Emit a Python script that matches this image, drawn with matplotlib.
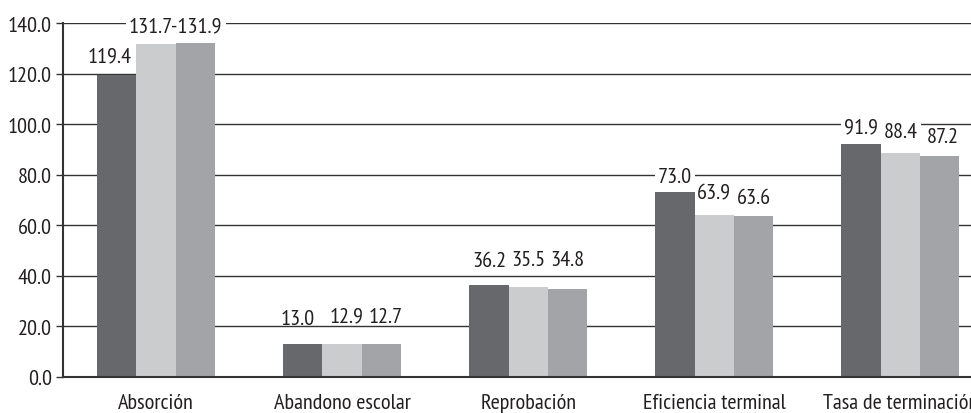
import matplotlib.pyplot as plt
import numpy as np

plt.rcParams['font.family'] = ['PT Sans Narrow', 'Roboto Condensed', 'DejaVu Sans']

# datos
categorias = ['Absorción', 'Abandono escolar', 'Reprobación',
              'Eficiencia terminal', 'Tasa de terminación']
serie_1 = [119.4, 13.0, 36.2, 73.0, 91.9]
serie_2 = [131.7, 12.9, 35.5, 63.9, 88.4]
serie_3 = [131.9, 12.7, 34.8, 63.6, 87.2]
yticks = [0, 20, 40, 60, 80, 100, 120, 140]

colores = ['#67686c', '#cbcccd', '#a3a4a8']
# desplazamiento de cada etiqueta (puntos) y si tapa la rejilla
desplaz = [[10, 9, 9], [14, 16, 16], [14, 16, 17], [7, 12, 9], [9, 12, 10]]
desplaz_x = [[-5, 0, 0], [-4, 3, 3], [0, 0, 0], [0, 0, 0], [0, 0, 2]]
tapa = [[True, True, True], [False] * 3, [False] * 3, [True, False, False], [True, True, False]]

fig = plt.figure(figsize=(9.71, 4.14), dpi=100)
ax = fig.add_axes([0.0649, 0.088, 0.9351, 0.854])

x = np.arange(len(categorias))
w = 0.211
series = [serie_1, serie_2, serie_3]
for i, (vals, c) in enumerate(zip(series, colores)):
    ax.bar(x + (i - 1) * w, vals, width=w, color=c, zorder=2)

caja = dict(boxstyle='square,pad=0.15', fc='white', ec='none')
fs = 16
for j in range(len(categorias)):
    if j == 0:
        # etiqueta combinada para las dos barras casi iguales
        ax.annotate(f'{serie_1[0]:.1f}', (x[0] - w, serie_1[0]),
                    xytext=(desplaz_x[0][0], desplaz[0][0]),
                    textcoords='offset points', ha='center', va='baseline',
                    fontsize=fs, color='#231f20', bbox=caja, zorder=3)
        ax.annotate(f'{serie_2[0]:.1f}-{serie_3[0]:.1f}', (x[0] + w / 2, max(serie_2[0], serie_3[0])),
                    xytext=(0, desplaz[0][1]), textcoords='offset points', ha='center',
                    va='baseline', fontsize=fs, color='#231f20', bbox=caja, zorder=3)
        continue
    for i, vals in enumerate(series):
        ax.annotate(f'{vals[j]:.1f}', (x[j] + (i - 1) * w, vals[j]),
                    xytext=(desplaz_x[j][i], desplaz[j][i]),
                    textcoords='offset points', ha='center', va='baseline',
                    fontsize=fs, color='#231f20',
                    bbox=caja if tapa[j][i] else None, zorder=3)

ax.set_ylim(0, 140)
ax.set_xlim(-0.5, 4.38)
ax.set_yticks(yticks)
ax.set_yticklabels([f'{v:.1f}' for v in yticks])
ax.set_xticks(x)
ax.set_xticklabels(categorias)
ax.tick_params(axis='y', length=5, width=1, color='#333333', pad=3,
               labelsize=fs, labelcolor='#231f20')
ax.tick_params(axis='x', length=0, pad=12, labelsize=fs, labelcolor='#231f20')

ax.yaxis.grid(True, color='#333333', linewidth=1.0)
ax.set_axisbelow(True)
for s in ['top', 'right']:
    ax.spines[s].set_visible(False)
for s in ['left', 'bottom']:
    ax.spines[s].set_color('#333333')
    ax.spines[s].set_linewidth(1.5)
    ax.spines[s].set_zorder(4)

plt.savefig('out.png', dpi=100)
